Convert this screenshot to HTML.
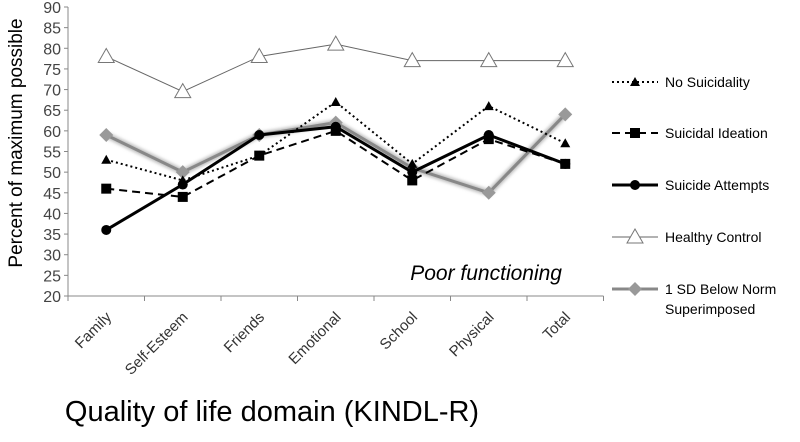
<!DOCTYPE html>
<html><head><meta charset="utf-8"><style>
body{margin:0;background:#fff;font-family:"Liberation Sans",sans-serif}
</style></head><body>
<svg id="c" width="800" height="437" xmlns="http://www.w3.org/2000/svg" font-family="Liberation Sans, sans-serif">
<defs><filter id="sh" x="-10%" y="-10%" width="120%" height="120%"><feGaussianBlur stdDeviation="1.5"/></filter></defs>
</svg>
<script>
const categories=["Family","Self-Esteem","Friends","Emotional","School","Physical","Total"];
const noSuicidality=[53,48,54,67,52,66,57];
const suicidalIdeation=[46,44,54,60,48,58,52];
const suicideAttempts=[36,47,59,61,50,59,52];
const healthyControl=[78,69.5,78,81,77,77,77];
const sdBelowNorm=[59,50,59,62,51,45,64];
const yTicks=[20,25,30,35,40,45,50,55,60,65,70,75,80,85,90];
const svg=document.getElementById('c');const NS="http://www.w3.org/2000/svg";
const x0=68,step=76.5,yb=296,yt=7;
const X=i=>x0+step*(i+0.5);
const Y=v=>yb-(v-20)*(yb-yt)/70;
function mk(t,a,p){const e=document.createElementNS(NS,t);for(const k in a)e.setAttribute(k,a[k]);(p||svg).appendChild(e);return e;}
let e;
e=mk('line',{x1:x0,y1:yt,x2:x0,y2:yb,stroke:'#888'});


e=mk('line',{x1:x0,y1:yb,x2:x0+step*7,y2:yb,stroke:'#888'});


yTicks.forEach(v=>{mk('line',{x1:x0-4,y1:Y(v),x2:x0,y2:Y(v),stroke:'#888'});
e=mk('text',{x:x0-7,y:Y(v)+6,'text-anchor':'end','font-size':16,fill:'#444'});e.textContent=v;

});
for(let i=0;i<=7;i++)mk('line',{x1:x0+step*i,y1:yb,x2:x0+step*i,y2:yb+5,stroke:'#888'});
categories.forEach((c,i)=>{const tx=X(i)+6,ty=yb+22;e=mk('text',{x:tx,y:ty,'text-anchor':'end','font-size':15,fill:'#333',transform:`rotate(-45 ${tx} ${ty})`});e.textContent=c;

});
e=mk('text',{x:22,y:143,'text-anchor':'middle','font-size':19,fill:'#000',transform:'rotate(-90 22 143)'});e.textContent='Percent of maximum possible';


e=mk('text',{x:272,y:421,'text-anchor':'middle','font-size':29,fill:'#000'});e.textContent='Quality of life domain (KINDL-R)';


e=mk('text',{x:562,y:280,'text-anchor':'end','font-size':21,'font-style':'italic',fill:'#000'});e.textContent='Poor functioning';


function marker(g,type,x,y,fill){
 if(type==='tri')return mk('polygon',{points:`${x},${y-5} ${x-5},${y+4} ${x+5},${y+4}`,fill:'#000'},g);
 if(type==='sq')return mk('rect',{x:x-5,y:y-5,width:10,height:10,fill:'#000'},g);
 if(type==='circ')return mk('circle',{cx:x,cy:y,r:5,fill:'#000'},g);
 if(type==='otri')return mk('polygon',{points:`${x},${y-8} ${x-8},${y+6} ${x+8},${y+6}`,fill:'#fff',stroke:'#777'},g);
 if(type==='dia')return mk('polygon',{points:`${x},${y-7} ${x+7},${y} ${x},${y+7} ${x-7},${y}`,fill:'#999'},g);
}
const series=[
 {n:'healthy-control',d:healthyControl,s:'#666',w:1,da:'',m:'otri',label:'Healthy Control'},
 {n:'sd-below-norm',d:sdBelowNorm,s:'#888',w:3,da:'',m:'dia',label:'1 SD Below Norm|Superimposed',sh:true},
 {n:'no-suicidality',d:noSuicidality,s:'#000',w:2,da:'2,3',m:'tri',label:'No Suicidality'},
 {n:'suicidal-ideation',d:suicidalIdeation,s:'#000',w:2,da:'8,5',m:'sq',label:'Suicidal Ideation'},
 {n:'suicide-attempts',d:suicideAttempts,s:'#000',w:3,da:'',m:'circ',label:'Suicide Attempts'}];
series.forEach(sr=>{const g=mk('g',{});
 
 
 const pts=sr.d.map((v,i)=>X(i)+','+Y(v)).join(' ');
 if(sr.sh)mk('polyline',{points:pts,fill:'none',stroke:'#bbb','stroke-width':6,filter:'url(#sh)'},g);
 mk('polyline',{points:pts,fill:'none',stroke:sr.s,'stroke-width':sr.w,'stroke-dasharray':sr.da},g);
 sr.d.forEach((v,i)=>{const m=marker(g,sr.m,X(i),Y(v));
 
 });});
const legOrder=['no-suicidality','suicidal-ideation','suicide-attempts','healthy-control','sd-below-norm'];
const legY=[82,133,185,237,289];
legOrder.forEach((n,k)=>{const sr=series.find(s=>s.n===n);const g=mk('g',{});
 
 
 const y=legY[k];
 mk('line',{x1:612,y1:y,x2:658,y2:y,stroke:sr.s,'stroke-width':sr.w,'stroke-dasharray':sr.da},g);
 marker(g,sr.m,635,y);
 const parts=sr.label.split('|');
 parts.forEach((p,j)=>{const t=mk('text',{x:665,y:y+5+j*20,'font-size':14,fill:'#000'},g);t.textContent=p;});});
</script>
</body></html>
